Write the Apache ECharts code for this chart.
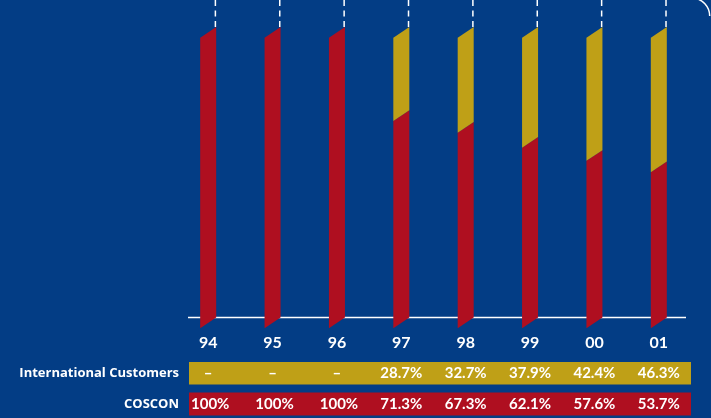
<!DOCTYPE html>
<html>
<head>
<meta charset="utf-8">
<script src="https://cdn.jsdelivr.net/npm/echarts@6/dist/echarts.min.js"></script>
<style>
  html, body { margin: 0; padding: 0; background: #033d85; }
  #chart { width: 711px; height: 418px; }
</style>
</head>
<body>
<div id="chart"></div>
<script>
// Share of container volume by customer group, 1994-2001 (percent)
const years = ['94', '95', '96', '97', '98', '99', '00', '01'];
const coscon = [100, 100, 100, 71.3, 67.3, 62.1, 57.6, 53.7];
const international = [null, null, null, 28.7, 32.7, 37.9, 42.4, 46.3];
const rowNames = ['International Customers', 'COSCON'];

const BG = '#033d85';
const RED = '#af0f20';
const GOLD = '#bfa017';
const FONT = 'Lato, "Open Sans", sans-serif';
const LABEL_FONT = '"Open Sans", Lato, sans-serif';
const HALF_W = 8;     // half of bar width in px
const SKEW = 10.7;    // vertical slant of bar ends in px
const GOLD_ROW_Y = 373.5;
const RED_ROW_Y = 404;

const chart = echarts.init(document.getElementById('chart'), null, { renderer: 'canvas' });

function slab(xc, yTop, yBot, color) {
  const xl = xc - HALF_W, xr = xc + HALF_W;
  return {
    type: 'polygon',
    shape: { points: [[xl, yTop + SKEW], [xr, yTop], [xr, yBot], [xl, yBot + SKEW]] },
    style: { fill: color }
  };
}

function fmt(v) {
  if (v == null) return '\u2013';
  return (v === 100 ? '100' : v.toFixed(1)) + '%';
}

function renderItem(params, api) {
  const i = params.dataIndex;
  const red = coscon[i];
  const gold = international[i] || 0;
  const base = api.coord([i, 0]);
  const redTop = api.coord([i, red]);
  const top = api.coord([i, red + gold]);
  const xc = base[0];
  const children = [];
  // dashed guide above each column
  children.push({
    type: 'line',
    shape: { x1: xc + HALF_W - 0.8, y1: top[1], x2: xc + HALF_W - 0.8, y2: 0 },
    style: { stroke: '#ffffff', lineWidth: 1.5, lineDash: [6, 4.5] }
  });
  children.push(slab(xc, redTop[1], base[1], RED));
  if (gold > 0) children.push(slab(xc, top[1], redTop[1], GOLD));
  // table values under the column
  children.push({
    type: 'text',
    style: {
      text: fmt(international[i]), x: xc, y: GOLD_ROW_Y,
      fill: '#ffffff', font: 'bold 15px ' + FONT, align: 'center', verticalAlign: 'middle'
    }
  });
  children.push({
    type: 'text',
    style: {
      text: fmt(coscon[i]), x: xc + (coscon[i] === 100 ? 2 : 0), y: RED_ROW_Y,
      fill: '#ffffff', font: 'bold 15px ' + FONT, align: 'center', verticalAlign: 'middle'
    }
  });
  return { type: 'group', children: children };
}

chart.setOption({
  backgroundColor: BG,
  animation: false,
  grid: { left: 176, right: 20, top: 27, bottom: 100.5 },
  xAxis: {
    type: 'category',
    data: years,
    axisLine: { show: false },
    axisTick: { show: false },
    axisLabel: {
      color: '#ffffff', fontFamily: FONT, fontWeight: 'bold', fontSize: 16, margin: 17
    }
  },
  yAxis: {
    type: 'value', min: 0, max: 100, interval: 20,
    show: false
  },
  graphic: [
    { type: 'line', z: 0, shape: { x1: 188, y1: 317.5, x2: 686, y2: 317.5 },
      style: { stroke: '#ffffff', lineWidth: 1.5 } },
    { type: 'rect', z: 0, shape: { x: 189, y: 362, width: 502, height: 22.5 }, style: { fill: GOLD } },
    { type: 'rect', z: 0, shape: { x: 189, y: 392.5, width: 502, height: 23 }, style: { fill: RED } },
    { type: 'text', z: 1, style: { text: rowNames[0], x: 179, y: GOLD_ROW_Y, align: 'right', verticalAlign: 'middle',
      fill: '#ffffff', font: 'bold 13px ' + LABEL_FONT } },
    { type: 'text', z: 1, style: { text: rowNames[1], x: 179, y: RED_ROW_Y, align: 'right', verticalAlign: 'middle',
      fill: '#ffffff', font: 'bold 13px ' + LABEL_FONT } },
    { type: 'arc', z: 0, shape: { cx: 691.7, cy: 16, r: 18, startAngle: -1.5, endAngle: 0 },
      style: { stroke: '#ffffff', lineWidth: 1.5, fill: null } }
  ],
  series: [{
    type: 'custom',
    z: 3,
    data: years.map((y, i) => i),
    renderItem: renderItem
  }]
});
</script>
</body>
</html>
